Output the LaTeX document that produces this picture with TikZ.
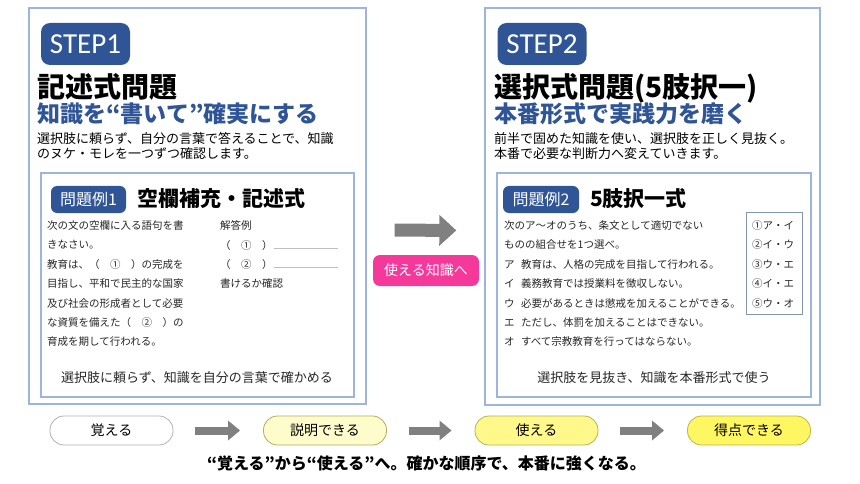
\documentclass[tikz,border=0pt]{standalone}
\usepackage{fontspec}
\setmainfont{Noto Sans CJK JP}
\newfontfamily\stepfont{Carlito}
\usetikzlibrary{arrows.meta}

\definecolor{stepblue}{HTML}{2F5597}
\definecolor{framecol}{HTML}{9DB4E0}
\definecolor{choicecol}{HTML}{8497B0}
\definecolor{pinkbtn}{HTML}{F5399B}
\definecolor{arrowgray}{HTML}{808080}

\begin{document}
\begin{tikzpicture}[
  x=1pt,y=-1pt,
  panel/.style={draw=framecol,line width=1.4pt,minimum width=337pt,minimum height=396pt},
  innerbox/.style={draw=framecol,line width=1.2pt,minimum width=313pt,minimum height=224pt},
  stepbadge/.style={fill=stepblue,text=white,rounded corners=9pt,minimum width=89pt,
    minimum height=42pt,inner sep=0,font=\stepfont\fontsize{29}{31}\selectfont},
  qbadge/.style={fill=stepblue,text=white,rounded corners=6pt,minimum width=75pt,
    minimum height=27pt,inner sep=0,font=\fontsize{16}{18}\selectfont},
  title/.style={anchor=base west,inner sep=0,font=\bfseries\fontsize{28}{30}\selectfont},
  subtitle/.style={anchor=base west,inner sep=0,text=stepblue,font=\bfseries\fontsize{23}{25}\selectfont},
  lead/.style={anchor=north west,inner sep=0,align=left,font=\fontsize{13}{15}\selectfont},
  qtitle/.style={anchor=base west,inner sep=0,font=\bfseries\fontsize{21}{23}\selectfont},
  qtext/.style={anchor=north west,inner sep=0,align=left,text=black!85,font=\fontsize{10.5}{19.4}\selectfont},
  aim/.style={anchor=base,inner sep=0,text=black!85,font=\fontsize{13}{15}\selectfont},
  pill/.style={draw,line width=.8pt,rounded corners=14pt,minimum width=123pt,minimum height=29pt,
    font=\fontsize{14}{16}\selectfont},
  flow/.style={draw=arrowgray,line width=8pt,-{Triangle[width=19pt,length=12pt]},
    shorten <=22pt,shorten >=23pt},
  bigflow/.style={draw=arrowgray,line width=13pt,-{Triangle[width=30pt,length=17pt]},
    shorten <=28pt,shorten >=28pt}
]
  \useasboundingbox (0,0) rectangle (860,484);

  % STEP1
  \node[panel] (step1) at (197.5,206) {};
  \node[stepbadge] (badge1) at (85.5,44) {STEP1};
  \node[title] (title1) at (37,98) {記述式問題};
  \node[subtitle] (sub1) at (37,122.7) {知識を“書いて”確実にする};
  \node[lead] (lead1) at (37,132) {選択肢に頼らず、自分の言葉で答えることで、知識\\のヌケ・モレを一つずつ確認します。};

  \node[innerbox] (box1) at (197.5,285) {};
  \node[qbadge] (qb1) at (88.5,199.5) {問題例1};
  \node[qtitle] (qt1) at (137,207) {空欄補充・記述式};
  \node[qtext] (q1) at (47,220.5) {次の文の空欄に入る語句を書\\きなさい。\\教育は、（　①　）の完成を\\目指し、平和で民主的な国家\\及び社会の形成者として必要\\な資質を備えた（　②　）の\\育成を期して行われる。};
  \node[qtext] (ans1) at (220,220.5) {解答例\\（　①　）\\（　②　）\\書けるか確認};
  \draw[black!25,line width=.8pt] (274,248.5) -- (338,248.5);
  \draw[black!25,line width=.8pt] (274,267.5) -- (338,267.5);
  \node[aim] (aim1) at (197,382.5) {選択肢に頼らず、知識を自分の言葉で確かめる};

  % STEP2
  \node[panel,minimum width=335pt,minimum height=397pt] (step2) at (652.5,206.5) {};
  \node[stepbadge] (badge2) at (542,44) {STEP2};
  \node[title] (title2) at (494,98) {選択式問題(5肢択一)};
  \node[subtitle] (sub2) at (494,122.7) {本番形式で実践力を磨く};
  \node[lead] (lead2) at (494,132) {前半で固めた知識を使い、選択肢を正しく見抜く。\\本番で必要な判断力へ変えていきます。};

  \node[innerbox,minimum width=314pt] (box2) at (654,285) {};
  \node[qbadge,minimum width=76pt] (qb2) at (541,199.5) {問題例2};
  \node[qtitle] (qt2) at (590,207) {5肢択一式};
  \node[qtext] (q2) at (504,220.5) {次のア～オのうち、条文として適切でない\\ものの組合せを1つ選べ。\\ア\hspace{.6em}教育は、人格の完成を目指して行われる。\\イ\hspace{.6em}義務教育では授業料を徴収しない。\\ウ\hspace{.6em}必要があるときは懲戒を加えることができる。\\エ\hspace{.6em}ただし、体罰を加えることはできない。\\オ\hspace{.6em}すべて宗教教育を行ってはならない。};
  \node[draw=choicecol,line width=.9pt,minimum width=56pt,minimum height=102pt] (chbox) at (774,263) {};
  \node[qtext] (choices) at (752,220.5) {①ア・イ\\②イ・ウ\\③ウ・エ\\④イ・エ\\⑤ウ・オ};
  \node[aim] (aim2) at (654,382.5) {選択肢を見抜き、知識を本番形式で使う};

  % between the steps
  \draw[bigflow] ([yshift=-24pt]step1.east) -- ([yshift=-24pt]step2.west);
  \node[fill=pinkbtn,text=white,rounded corners=7pt,minimum width=106pt,minimum height=31pt,
    font=\fontsize{14}{16}\selectfont] (usebtn) at (426,270.5) {使える知識へ};

  % flow
  \node[pill,draw=black!30,fill=white] (oboe) at (111.5,430.5) {覚える};
  \node[pill,draw=black!25!yellow!60!gray,fill=yellow!20] (setsu) at (325,430.5) {説明できる};
  \node[pill,draw=black!25!yellow!70!gray,fill=yellow!45] (tsuka) at (536.5,430.5) {使える};
  \node[pill,draw=black!25!yellow!80!gray,fill=yellow!62] (toku) at (749,430.5) {得点できる};
  \draw[flow] (oboe) -- (setsu);
  \draw[flow] (setsu) -- (tsuka);
  \draw[flow] (tsuka) -- (toku);

  \node[anchor=base,inner sep=0,font=\bfseries\fontsize{16}{18}\selectfont] (caption) at (426.5,469)
    {“覚える”から“使える”へ。確かな順序で、本番に強くなる。};
\end{tikzpicture}
\end{document}
